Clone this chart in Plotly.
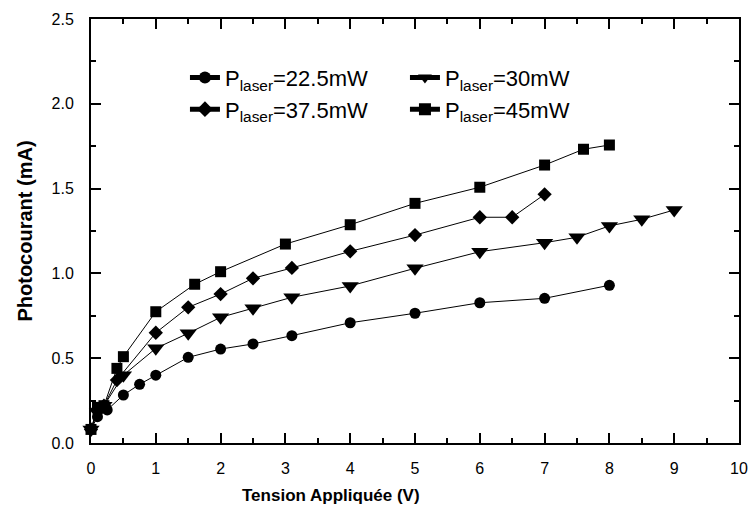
import plotly.graph_objects as go

# Data
v_22 = [0, 0.1, 0.25, 0.5, 0.75, 1, 1.5, 2, 2.5, 3.1, 4, 5, 6, 7, 8]
i_22 = [0.08, 0.155, 0.195, 0.283, 0.346, 0.40, 0.505, 0.554, 0.584, 0.633, 0.709, 0.765, 0.827, 0.853, 0.93]

v_30 = [0, 0.1, 0.2, 0.5, 1, 1.5, 2, 2.5, 3.1, 4, 5, 6, 7, 7.5, 8, 8.5, 9]
i_30 = [0.08, 0.18, 0.22, 0.40, 0.558, 0.647, 0.741, 0.794, 0.859, 0.926, 1.03, 1.128, 1.181, 1.213, 1.28, 1.319, 1.374]

v_375 = [0, 0.1, 0.2, 0.4, 1, 1.5, 2, 2.5, 3.1, 4, 5, 6, 6.5, 7]
i_375 = [0.08, 0.20, 0.22, 0.371, 0.65, 0.80, 0.878, 0.971, 1.032, 1.13, 1.226, 1.331, 1.331, 1.466]

v_45 = [0, 0.1, 0.2, 0.4, 0.5, 1, 1.6, 2, 3, 4, 5, 6, 7, 7.6, 8]
i_45 = [0.08, 0.21, 0.22, 0.44, 0.509, 0.774, 0.936, 1.01, 1.173, 1.287, 1.413, 1.508, 1.639, 1.732, 1.757]

names = ["P<sub>laser</sub>=22.5mW", "P<sub>laser</sub>=30mW",
         "P<sub>laser</sub>=37.5mW", "P<sub>laser</sub>=45mW"]
symbols = ["circle", "triangle-down", "diamond", "square"]
sizes = [11, 15, 11, 11]

x_ticks = [0, 1, 2, 3, 4, 5, 6, 7, 8, 9, 10]
y_ticks = [0.0, 0.5, 1.0, 1.5, 2.0, 2.5]
y_tick_labels = ["0.0", "0.5", "1.0", "1.5", "2.0", "2.5"]

series = [(v_22, i_22), (v_30, i_30), (v_375, i_375), (v_45, i_45)]

fig = go.Figure()
for (xs, ys), nm, sym, sz in zip(series, names, symbols, sizes):
    fig.add_trace(go.Scatter(
        x=xs, y=ys, name=nm, mode="lines+markers",
        line=dict(color="black", width=1),
        marker=dict(symbol=sym, size=sz, color="black", line=dict(width=0)),
        cliponaxis=False,
    ))

font_family = "Liberation Sans, Arial, sans-serif"

fig.update_layout(
    width=754, height=519,
    margin=dict(l=91, r=15, t=19, b=76, autoexpand=False),
    paper_bgcolor="white", plot_bgcolor="white",
    font=dict(family=font_family, color="black", size=16),
    showlegend=True,
    legend=dict(
        orientation="h", x=0.145, y=0.911, xanchor="left", yanchor="top",
        bgcolor="rgba(0,0,0,0)", font=dict(size=22), entrywidth=175,
        entrywidthmode="pixels", itemsizing="constant",
    ),
    xaxis=dict(
        range=[0, 10], tickvals=x_ticks, ticktext=[str(t) for t in x_ticks],
        showgrid=False, zeroline=False, showline=True, linecolor="black", linewidth=2,
        mirror="ticks", ticks="inside", ticklen=10, tickwidth=1.5, tickcolor="black",
        minor=dict(ticks="inside", ticklen=5, dtick=0.5, tickwidth=1.5, tickcolor="black", showgrid=False),
        tickfont=dict(size=16), ticklabelstandoff=10, automargin=False,
    ),
    yaxis=dict(
        range=[0, 2.5], tickvals=y_ticks, ticktext=y_tick_labels,
        showgrid=False, zeroline=False, showline=True, linecolor="black", linewidth=2,
        mirror="ticks", ticks="inside", ticklen=10, tickwidth=1.5, tickcolor="black",
        minor=dict(ticks="inside", ticklen=5, dtick=0.25, tickwidth=1.5, tickcolor="black", showgrid=False),
        tickfont=dict(size=16), ticklabelstandoff=12, automargin=False,
        title=dict(text="<b>Photocourant (mA)</b>", font=dict(size=20), standoff=14),
    ),
    annotations=[dict(
        text="<b>Tension Appliquée (V)</b>", xref="paper", yref="paper",
        x=0.37, y=-0.123, xanchor="center", yanchor="middle", showarrow=False,
        font=dict(size=17),
    )],
)

fig.write_html("out.html", config={"displayModeBar": False},
               post_script="document.body.style.margin='0px';")
